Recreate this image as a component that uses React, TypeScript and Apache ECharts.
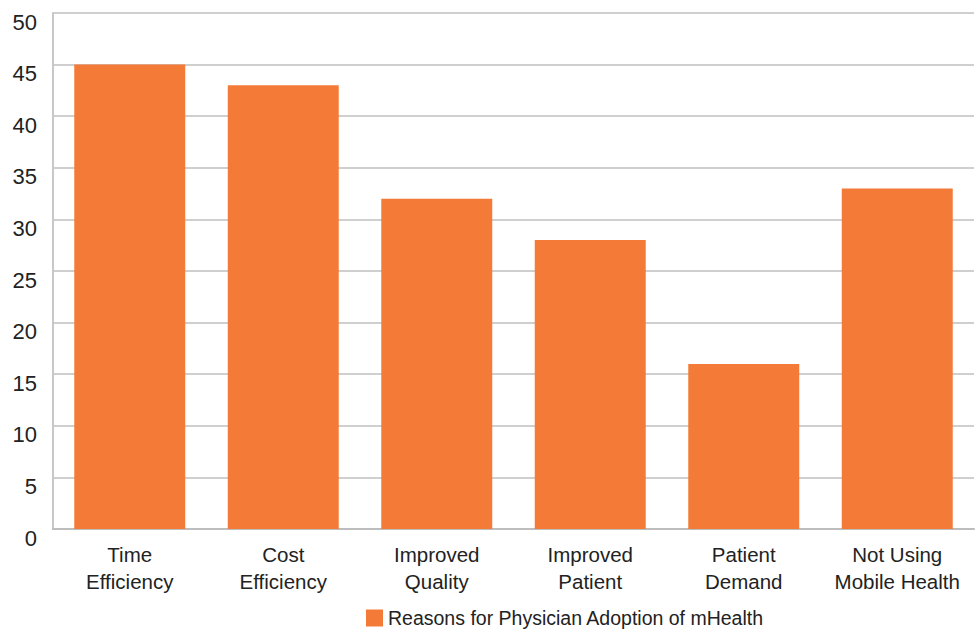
import React, { useEffect, useRef } from "react";
import * as echarts from "echarts";

const categories = [
  "Time\nEfficiency",
  "Cost\nEfficiency",
  "Improved\nQuality",
  "Improved\nPatient",
  "Patient\nDemand",
  "Not Using\nMobile Health",
];
const values = [45, 43, 32, 28, 16, 33];
const seriesName = "Reasons for Physician Adoption of mHealth";
const yTicks = { min: 0, max: 50, interval: 5 };

const FONT = "Liberation Sans";
const ORANGE = "#F47B37";

export default function App() {
  const ref = useRef<HTMLDivElement>(null);
  useEffect(() => {
    if (!ref.current) return;
    const chart = echarts.init(ref.current, undefined, { renderer: "svg" });
    chart.setOption({
      animation: false,
      textStyle: { fontFamily: FONT },
      grid: { left: 53, right: 1, top: 13, bottom: 102, containLabel: false },
      legend: {
        left: 361,
        top: 603,
        itemWidth: 17,
        itemHeight: 17,
        itemGap: 8,
        icon: "rect",
        textStyle: { fontFamily: FONT, fontSize: 19.5, color: "#222" },
        data: [seriesName],
      },
      xAxis: {
        type: "category",
        data: categories,
        axisLine: { show: true, lineStyle: { color: "#bdbdbd", width: 2 } },
        axisTick: { show: false },
        axisLabel: {
          interval: 0,
          margin: 12,
          fontFamily: FONT,
          fontSize: 20.5,
          lineHeight: 27,
          color: "#222",
        },
      },
      yAxis: {
        type: "value",
        min: yTicks.min,
        max: yTicks.max,
        interval: yTicks.interval,
        axisLine: { show: true, lineStyle: { color: "#c8c8c8", width: 2 } },
        axisTick: { show: false },
        splitLine: { show: true, lineStyle: { color: "#cfcfcf", width: 2 } },
        axisLabel: {
          margin: 16,
          fontFamily: FONT,
          fontSize: 22,
          color: "#222",
          verticalAlign: "top",
          lineHeight: 18,
        },
      },
      series: [
        {
          name: seriesName,
          type: "bar",
          data: values,
          barCategoryGap: "27.7%",
          itemStyle: { color: ORANGE },
        },
      ],
    });
    return () => chart.dispose();
  }, []);
  return (
    <div
      ref={ref}
      style={{ position: "fixed", left: 0, top: 0, width: 975, height: 631, background: "#fff" }}
    />
  );
}
